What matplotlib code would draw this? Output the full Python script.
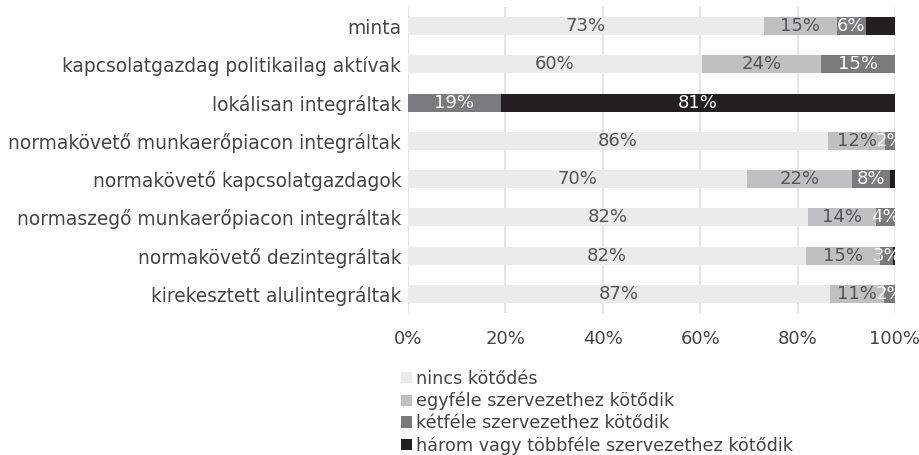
import numpy as np
import matplotlib.pyplot as plt

plt.rcParams['font.family'] = ['DejaVu Sans']

# Data
categories = ['minta',
              'kapcsolatgazdag politikailag aktívak',
              'lokálisan integráltak',
              'normakövető munkaerőpiacon integráltak',
              'normakövető kapcsolatgazdagok',
              'normaszegő munkaerőpiacon integráltak',
              'normakövető dezintegráltak',
              'kirekesztett alulintegráltak']
series_names = ['nincs kötődés',
                'egyféle szervezethez kötődik',
                'kétféle szervezethez kötődik',
                'három vagy többféle szervezethez kötődik']
nincs = [73.0, 60.4, 0.0, 86.2, 69.6, 82.1, 81.8, 86.6]
egy = [15.0, 24.4, 0.0, 11.8, 21.6, 14.1, 15.2, 11.2]
ket = [6.0, 15.2, 19.0, 2.0, 7.8, 3.8, 2.6, 2.2]
harom = [6.0, 0.0, 81.0, 0.0, 1.0, 0.0, 0.4, 0.0]
# segments without a printed label in the original
hidden = {(3, 0), (3, 4), (3, 6)}

colors = ['#ebebec', '#c0c0c2', '#7b7b7d', '#231f20']
txt_colors = ['#555555', '#555555', 'white', 'white']
txt = '#444444'

fig = plt.figure(figsize=(9.2, 4.55), dpi=100)
ax = fig.add_axes([408/920, 1-313/455, 487/920, 306/455])

y = np.arange(len(categories))
left = np.zeros(len(categories))
for s, (vals, name) in enumerate(zip([nincs, egy, ket, harom], series_names)):
    vals = np.array(vals)
    ax.barh(y, vals, left=left, height=0.47, color=colors[s], label=name, zorder=2)
    for i, v in enumerate(vals):
        if v >= 1.5 and (s, i) not in hidden:
            ax.text(left[i] + v/2, y[i], f'{v:.0f}%', ha='center', va='center',
                    color=txt_colors[s], fontsize=13, zorder=3)
    left += vals

ax.set_xlim(0, 100)
ax.set_ylim(len(categories) - 0.5, -0.5)
ax.set_yticks(y)
ax.set_yticklabels(categories, fontsize=13.4, color=txt)
ax.set_xticks(np.arange(0, 101, 20))
ax.set_xticklabels([f'{t}%' for t in range(0, 101, 20)], fontsize=13, color=txt)
ax.tick_params(length=0, pad=5)
ax.tick_params(axis='x', pad=12)
ax.grid(axis='x', color='#e0e0e0', linewidth=1.2, zorder=0)
for sp in ax.spines.values():
    sp.set_visible(False)

fig.legend(loc='upper left', bbox_to_anchor=(394/920, 1-363/455), frameon=False,
           fontsize=12.7, labelcolor=txt, handlelength=0.6, handleheight=0.6,
           handletextpad=0.25, labelspacing=0.22, borderaxespad=0)

fig.savefig('out.png', dpi=100)
